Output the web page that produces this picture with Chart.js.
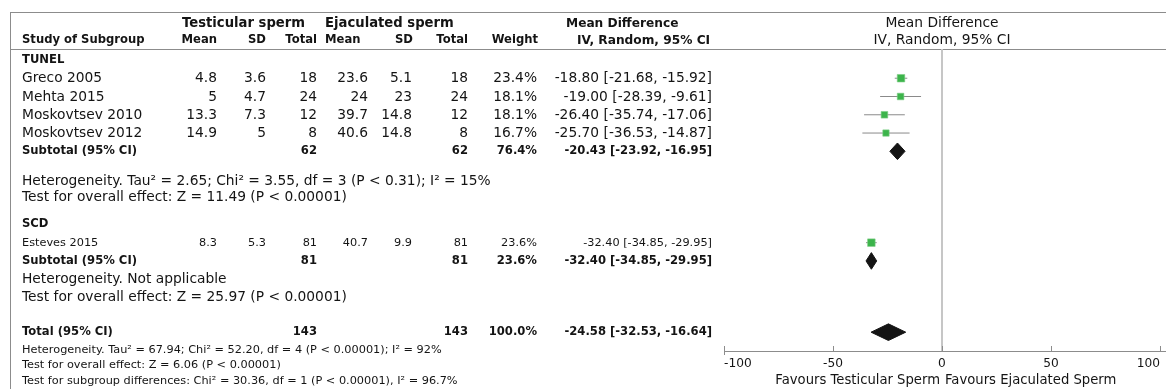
<!DOCTYPE html>
<html>
<head>
<meta charset="utf-8">
<title>Forest plot: testicular vs ejaculated sperm DNA fragmentation</title>
<script src="https://cdn.jsdelivr.net/npm/chart.js@4.4.1/dist/chart.umd.min.js"></script>
<style>
  html, body { margin: 0; padding: 0; background: #fff; }
  #wrap { position: relative; width: 1166px; height: 389px; overflow: hidden; color: #141414; }
  #plot { position: absolute; left: 0; top: 0; }
  .t { position: absolute; white-space: nowrap; }
</style>
</head>
<body>
<div id="wrap"><canvas id="plot" width="1166" height="389"></canvas></div>
<script>
// ---------- study data ----------
const studies   = ['Greco 2005', 'Mehta 2015', 'Moskovtsev 2010', 'Moskovtsev 2012', 'Esteves 2015'];
const testMean  = [4.8, 5, 13.3, 14.9, 8.3];
const testSD    = [3.6, 4.7, 7.3, 5, 5.3];
const testN     = [18, 24, 12, 8, 81];
const ejacMean  = [23.6, 24, 39.7, 40.6, 40.7];
const ejacSD    = [5.1, 23, 14.8, 14.8, 9.9];
const ejacN     = [18, 24, 12, 8, 81];
const weight    = [23.4, 18.1, 18.1, 16.7, 23.6];
const meanDiff  = [-18.80, -19.00, -26.40, -25.70, -32.40];
const ciLow     = [-21.68, -28.39, -35.74, -36.53, -34.85];
const ciHigh    = [-15.92, -9.61, -17.06, -14.87, -29.95];

// ---------- pooled estimates (TUNEL subtotal, SCD subtotal, overall) ----------
const pooledNames  = ['Subtotal (95% CI)', 'Subtotal (95% CI)', 'Total (95% CI)'];
const pooledTestN  = [62, 81, 143];
const pooledEjacN  = [62, 81, 143];
const pooledWeight = [76.4, 23.6, 100.0];
const pooledDiff   = [-20.43, -32.40, -24.58];
const pooledLow    = [-23.92, -34.85, -32.53];
const pooledHigh   = [-16.95, -29.95, -16.64];

// ---------- text ----------
const groupNames = ['TUNEL', 'SCD'];
const groupHeterogeneity = [
  'Heterogeneity. Tau\u00B2 = 2.65; Chi\u00B2 = 3.55, df = 3 (P < 0.31); I\u00B2 = 15%',
  'Heterogeneity. Not applicable'
];
const groupEffect = [
  'Test for overall effect: Z = 11.49 (P < 0.00001)',
  'Test for overall effect: Z = 25.97 (P < 0.00001)'
];
const totalNotes = [
  'Heterogeneity. Tau\u00B2 = 67.94; Chi\u00B2 = 52.20, df = 4 (P < 0.00001); I\u00B2 = 92%',
  'Test for overall effect: Z = 6.06 (P < 0.00001)',
  'Test for subgroup differences: Chi\u00B2 = 30.36, df = 1 (P < 0.00001), I\u00B2 = 96.7%'
];
const axisTicks = [-100, -50, 0, 50, 100];
const favoursLeft = 'Favours Testicular Sperm';
const favoursRight = 'Favours Ejaculated Sperm';

// ---------- layout (table rows in row units, columns in px) ----------
const ROWS = {
  headA: -2.0, headB: -1.1,
  groupHead: [0, 9.0],
  study: [1, 2, 3, 4, 10],
  studySmall: [false, false, false, false, true],
  pooled: [5, 11, 14.9],
  het: [6.6, 12],
  effect: [7.5, 13],
  notes: [15.85, 16.72, 17.55]
};
const COL = { name: 22, tMean: 217, tSD: 266, tN: 317, eMean: 368, eSD: 412, eN: 468, weight: 537, ci: 712 };
const W = 1166;
const FAM = '"DejaVu Sans", Verdana, sans-serif';
const F_LG = '13.8px/1 ' + FAM;
const F_SM = '11.3px/1 ' + FAM;
const F_BSM = 'bold 11.6px/1 ' + FAM;
const F_BHD = 'bold 12.2px/1 ' + FAM;
const F_BLG = 'bold 13.2px/1 ' + FAM;
const F_AX = '13.2px/1 ' + FAM;
const DIAMOND_HALF = 0.455;   // half height of pooled diamonds, in rows
const RULE = '#8c8c8c';

const fmtCI = (m, lo, hi) => `${m.toFixed(2)} [${lo.toFixed(2)}, ${hi.toFixed(2)}]`;
const squareRadius = w => 1.1 * Math.sqrt(w);   // 'rect' side = radius * sqrt(2)

// ---------- datasets ----------
const squareSet = {
  type: 'scatter', order: 0,
  data: studies.map((s, i) => ({ x: meanDiff[i], y: ROWS.study[i] })),
  pointStyle: 'rect',
  pointRadius: ctx => squareRadius(weight[ctx.dataIndex]),
  backgroundColor: '#3cb44b', borderColor: '#7fcf87', borderWidth: 0.6
};
const whiskerSets = studies.map((s, i) => ({
  type: 'line', order: 2,
  data: [{ x: ciLow[i], y: ROWS.study[i] }, { x: ciHigh[i], y: ROWS.study[i] }],
  borderColor: '#8a8a8a', borderWidth: 1, pointRadius: 0, fill: false
}));
const diamondSets = pooledDiff.map((m, i) => {
  const r = ROWS.pooled[i];
  return {
    type: 'line', order: 1,
    data: [
      { x: pooledLow[i], y: r }, { x: m, y: r - DIAMOND_HALF },
      { x: pooledHigh[i], y: r }, { x: m, y: r + DIAMOND_HALF },
      { x: pooledLow[i], y: r }
    ],
    borderColor: '#141414', backgroundColor: '#141414', borderWidth: 1,
    pointRadius: 0, tension: 0, fill: 'shape'
  };
});

// table rules and inward axis tick marks
const frame = {
  id: 'frame',
  beforeDraw(chart) {
    const ctx = chart.ctx;
    ctx.save();
    ctx.strokeStyle = RULE; ctx.lineWidth = 1;
    ctx.beginPath();
    ctx.moveTo(10, 12.5); ctx.lineTo(W, 12.5);
    ctx.moveTo(10, 49.5); ctx.lineTo(W, 49.5);
    ctx.moveTo(10.5, 12); ctx.lineTo(10.5, 389);
    ctx.stroke();
    ctx.restore();
  },
  afterDraw(chart) {
    const xs = chart.scales.x, b = chart.chartArea.bottom, ctx = chart.ctx;
    ctx.save();
    ctx.strokeStyle = RULE; ctx.lineWidth = 1;
    xs.ticks.forEach((t, i) => {
      const px = Math.round(xs.getPixelForValue(t.value)) + 0.5;
      ctx.beginPath();
      ctx.moveTo(px, b - 5);
      ctx.lineTo(px, i === 0 ? b + 4 : b);
      ctx.stroke();
    });
    ctx.beginPath();
    ctx.moveTo(xs.right, b + 0.5); ctx.lineTo(W, b + 0.5);
    ctx.stroke();
    ctx.restore();
  }
};

const chart = new Chart(document.getElementById('plot'), {
  type: 'scatter',
  data: { datasets: [squareSet, ...diamondSets, ...whiskerSets] },
  options: {
    responsive: false, animation: false, devicePixelRatio: 1,
    layout: { padding: { left: 724, right: 2, top: 49, bottom: 0 } },
    plugins: { legend: { display: false }, tooltip: { enabled: false }, title: { display: false } },
    events: [],
    scales: {
      x: {
        type: 'linear', min: -100, max: 100, position: 'bottom',
        afterBuildTicks: s => { s.ticks = axisTicks.map(v => ({ value: v })); },
        afterFit: s => { s.height = 38; },
        border: { display: true, color: RULE, width: 1 },
        grid: {
          drawTicks: false,
          color: c => (c.tick && c.tick.value === 0) ? '#c6c6c6' : 'rgba(0,0,0,0)',
          lineWidth: 2
        },
        ticks: {
          align: 'inner', padding: 6, maxRotation: 0, autoSkip: false,
          color: '#141414', font: { family: FAM, size: 12.2 }
        }
      },
      y: { type: 'linear', display: false, reverse: true, min: -0.6, max: 15.93 }
    }
  },
  plugins: [frame]
});

// ---------- table text ----------
const wrap = document.getElementById('wrap');
const ys = chart.scales.y, xs = chart.scales.x;
const rowY = r => ys.getPixelForValue(r);
function put(text, x, y, align, font) {
  const d = document.createElement('div');
  d.className = 't';
  d.textContent = text;
  d.style.font = font;
  d.style.top = y + 'px';
  if (align === 'right') { d.style.right = (W - x) + 'px'; d.style.transform = 'translateY(-50%)'; }
  else if (align === 'center') { d.style.left = x + 'px'; d.style.transform = 'translate(-50%,-50%)'; }
  else { d.style.left = x + 'px'; d.style.transform = 'translateY(-50%)'; }
  wrap.appendChild(d);
}

// column headers
const yA = rowY(ROWS.headA), yB = rowY(ROWS.headB);
put('Testicular sperm', 182, yA, 'left', F_BLG);
put('Ejaculated sperm', 325, yA, 'left', F_BLG);
put('Mean Difference', 566, yA, 'left', F_BHD);
put('Study of Subgroup', COL.name, yB, 'left', F_BSM);
put('Mean', COL.tMean, yB, 'right', F_BSM);
put('SD', COL.tSD, yB, 'right', F_BSM);
put('Total', COL.tN, yB, 'right', F_BSM);
put('Mean', 325, yB, 'left', F_BSM);
put('SD', 413, yB, 'right', F_BSM);
put('Total', COL.eN, yB, 'right', F_BSM);
put('Weight', 538, yB, 'right', F_BSM);
put('IV, Random, 95% CI', 577, yB, 'left', F_BHD);
const xMid = (xs.left + xs.right) / 2;
put('Mean Difference', xMid, yA, 'center', F_LG);
put('IV, Random, 95% CI', xMid, yB, 'center', F_LG);

// subgroup headings, studies, subtotals
groupNames.forEach((g, i) => put(g, COL.name, rowY(ROWS.groupHead[i]), 'left', F_BSM));
studies.forEach((s, i) => {
  const y = rowY(ROWS.study[i]);
  const f = ROWS.studySmall[i] ? F_SM : F_LG;
  put(s, COL.name, y, 'left', f);
  put(String(testMean[i]), COL.tMean, y, 'right', f);
  put(String(testSD[i]), COL.tSD, y, 'right', f);
  put(String(testN[i]), COL.tN, y, 'right', f);
  put(String(ejacMean[i]), COL.eMean, y, 'right', f);
  put(String(ejacSD[i]), COL.eSD, y, 'right', f);
  put(String(ejacN[i]), COL.eN, y, 'right', f);
  put(weight[i].toFixed(1) + '%', COL.weight, y, 'right', f);
  put(fmtCI(meanDiff[i], ciLow[i], ciHigh[i]), COL.ci, y, 'right', f);
});
pooledNames.forEach((p, i) => {
  const y = rowY(ROWS.pooled[i]);
  put(p, COL.name, y, 'left', F_BSM);
  put(String(pooledTestN[i]), COL.tN, y, 'right', F_BSM);
  put(String(pooledEjacN[i]), COL.eN, y, 'right', F_BSM);
  put(pooledWeight[i].toFixed(1) + '%', COL.weight, y, 'right', F_BSM);
  put(fmtCI(pooledDiff[i], pooledLow[i], pooledHigh[i]), COL.ci, y, 'right', F_BSM);
});
groupHeterogeneity.forEach((h, i) => put(h, COL.name, rowY(ROWS.het[i]), 'left', F_LG));
groupEffect.forEach((h, i) => put(h, COL.name, rowY(ROWS.effect[i]), 'left', F_LG));
totalNotes.forEach((n, i) => put(n, COL.name, rowY(ROWS.notes[i]), 'left', F_SM));

// axis captions either side of the line of no effect
const x0 = xs.getPixelForValue(0);
const yCap = chart.chartArea.bottom + 29;
put(favoursLeft, x0 - 2, yCap, 'right', F_AX);
put(favoursRight, x0 + 3, yCap, 'left', F_AX);
</script>
</body>
</html>
